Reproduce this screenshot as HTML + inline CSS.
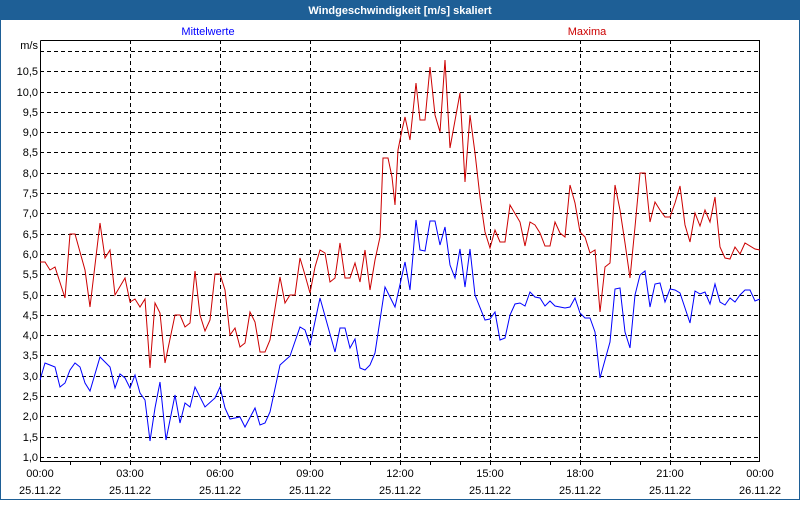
<!DOCTYPE html>
<html><head><meta charset="utf-8"><style>
body{margin:0;background:#fff}
svg text{font-family:"Liberation Sans",sans-serif;font-size:11px}
</style></head><body>
<svg width="800" height="500" viewBox="0 0 800 500" xmlns="http://www.w3.org/2000/svg">
<rect x="0" y="0" width="800" height="500" fill="#fff"/>
<rect x="0.5" y="0.5" width="799" height="499" fill="none" stroke="#1e5f96"/>
<rect x="0" y="0" width="800" height="20" fill="#1e5f96"/>
<text x="400" y="14" fill="#fff" text-anchor="middle" font-weight="bold">Windgeschwindigkeit [m/s] skaliert</text>
<text x="208" y="35" fill="#0000ff" text-anchor="middle">Mittelwerte</text>
<text x="587" y="35" fill="#cc0000" text-anchor="middle">Maxima</text>
<text x="38" y="49" text-anchor="end">m/s</text>
<g stroke="#000" stroke-dasharray="4,3" stroke-width="1">
<line x1="40" x2="760" y1="51.5" y2="51.5"/><line x1="40" x2="760" y1="71.5" y2="71.5"/><line x1="40" x2="760" y1="92.5" y2="92.5"/><line x1="40" x2="760" y1="112.5" y2="112.5"/><line x1="40" x2="760" y1="132.5" y2="132.5"/><line x1="40" x2="760" y1="152.5" y2="152.5"/><line x1="40" x2="760" y1="173.5" y2="173.5"/><line x1="40" x2="760" y1="193.5" y2="193.5"/><line x1="40" x2="760" y1="213.5" y2="213.5"/><line x1="40" x2="760" y1="234.5" y2="234.5"/><line x1="40" x2="760" y1="254.5" y2="254.5"/><line x1="40" x2="760" y1="274.5" y2="274.5"/><line x1="40" x2="760" y1="295.5" y2="295.5"/><line x1="40" x2="760" y1="315.5" y2="315.5"/><line x1="40" x2="760" y1="335.5" y2="335.5"/><line x1="40" x2="760" y1="355.5" y2="355.5"/><line x1="40" x2="760" y1="376.5" y2="376.5"/><line x1="40" x2="760" y1="396.5" y2="396.5"/><line x1="40" x2="760" y1="416.5" y2="416.5"/><line x1="40" x2="760" y1="437.5" y2="437.5"/><line x1="40" x2="760" y1="457.5" y2="457.5"/>
<line x1="130.5" x2="130.5" y1="40" y2="461"/><line x1="220.5" x2="220.5" y1="40" y2="461"/><line x1="310.5" x2="310.5" y1="40" y2="461"/><line x1="400.5" x2="400.5" y1="40" y2="461"/><line x1="490.5" x2="490.5" y1="40" y2="461"/><line x1="580.5" x2="580.5" y1="40" y2="461"/><line x1="670.5" x2="670.5" y1="40" y2="461"/>
</g>
<polyline fill="none" stroke="#000" points="40.5,40.5 759.5,40.5 759.5,461.5 40.5,461.5 40.5,40.5"/>
<g stroke="#000">
<line x1="70.5" x2="70.5" y1="461" y2="465"/><line x1="100.5" x2="100.5" y1="461" y2="465"/><line x1="130.5" x2="130.5" y1="461" y2="465"/><line x1="160.5" x2="160.5" y1="461" y2="465"/><line x1="190.5" x2="190.5" y1="461" y2="465"/><line x1="220.5" x2="220.5" y1="461" y2="465"/><line x1="250.5" x2="250.5" y1="461" y2="465"/><line x1="280.5" x2="280.5" y1="461" y2="465"/><line x1="310.5" x2="310.5" y1="461" y2="465"/><line x1="340.5" x2="340.5" y1="461" y2="465"/><line x1="370.5" x2="370.5" y1="461" y2="465"/><line x1="400.5" x2="400.5" y1="461" y2="465"/><line x1="430.5" x2="430.5" y1="461" y2="465"/><line x1="460.5" x2="460.5" y1="461" y2="465"/><line x1="490.5" x2="490.5" y1="461" y2="465"/><line x1="520.5" x2="520.5" y1="461" y2="465"/><line x1="550.5" x2="550.5" y1="461" y2="465"/><line x1="580.5" x2="580.5" y1="461" y2="465"/><line x1="610.5" x2="610.5" y1="461" y2="465"/><line x1="640.5" x2="640.5" y1="461" y2="465"/><line x1="670.5" x2="670.5" y1="461" y2="465"/><line x1="700.5" x2="700.5" y1="461" y2="465"/><line x1="730.5" x2="730.5" y1="461" y2="465"/>
</g>
<g text-anchor="end" fill="#000">
<text x="38" y="75">10,5</text><text x="38" y="96">10,0</text><text x="38" y="116">9,5</text><text x="38" y="136">9,0</text><text x="38" y="156">8,5</text><text x="38" y="177">8,0</text><text x="38" y="197">7,5</text><text x="38" y="217">7,0</text><text x="38" y="238">6,5</text><text x="38" y="258">6,0</text><text x="38" y="278">5,5</text><text x="38" y="299">5,0</text><text x="38" y="319">4,5</text><text x="38" y="339">4,0</text><text x="38" y="359">3,5</text><text x="38" y="380">3,0</text><text x="38" y="400">2,5</text><text x="38" y="420">2,0</text><text x="38" y="441">1,5</text><text x="38" y="461">1,0</text>
</g>
<g text-anchor="middle" fill="#000">
<text x="40" y="477">00:00</text><text x="130" y="477">03:00</text><text x="220" y="477">06:00</text><text x="310" y="477">09:00</text><text x="400" y="477">12:00</text><text x="490" y="477">15:00</text><text x="580" y="477">18:00</text><text x="670" y="477">21:00</text><text x="760" y="477">00:00</text>
<text x="40" y="494">25.11.22</text><text x="130" y="494">25.11.22</text><text x="220" y="494">25.11.22</text><text x="310" y="494">25.11.22</text><text x="400" y="494">25.11.22</text><text x="490" y="494">25.11.22</text><text x="580" y="494">25.11.22</text><text x="670" y="494">25.11.22</text><text x="760" y="494">26.11.22</text>
</g>
<polyline fill="none" stroke="#cc0000" stroke-width="1" points="40,262 45,262 50,270 55,267 65,298 70,234 75,234 85,270 90,307 100,223 105,258 110,250 115,295 125,278 130,302 135,299 140,307 145,299 150,368 155,303 160,313 165,363 175,315 180,315 185,327 190,323 195,271 200,315 205,331 210,320 215,274 220,274 225,290 230,335 235,328 240,347 245,343 250,312 255,322 260,352 265,352 270,340 280,277 285,303 290,295 295,295 300,258 305,275 310,293 315,267 320,250 325,253 330,282 335,278 340,243 345,278 350,278 355,263 360,282 365,250 370,290 375,260 380,237 383,158 388,158 392,177 395,205 398,150 402,130 405,117 410,140 416,83 420,120 425,120 430,67 435,115 440,132 445,60 450,148 460,93 465,182 470,115 475,153 480,197 485,232 490,248 495,230 500,242 505,242 510,205 520,222 525,246 530,222 535,225 540,233 545,246 550,246 555,222 560,233 565,237 570,185 575,203 580,232 585,237 590,253 595,250 600,312 605,267 610,263 615,185 620,210 625,243 630,278 635,227 640,173 645,173 650,222 655,202 660,210 665,217 670,217 675,203 680,186 685,225 690,242 695,213 700,226 705,210 710,222 715,197 720,247 725,258 730,259 735,247 740,254 745,243 755,249 760,250"/>
<polyline fill="none" stroke="#0000ff" stroke-width="1" points="40,380 45,363 50,365 55,367 60,387 65,383 70,370 75,363 80,367 85,383 90,391 100,357 110,367 115,388 120,374 125,378 130,388 135,375 140,393 145,400 150,441 155,408 160,382 166,440 175,395 180,423 185,403 190,407 195,387 205,407 215,398 220,387 225,408 230,419 240,417 245,427 255,408 260,425 265,423 270,412 280,365 290,356 300,327 305,330 310,345 320,298 335,352 340,328 345,328 350,348 355,339 360,368 365,370 370,365 375,353 385,287 395,307 405,262 410,290 416,220 420,250 425,251 430,221 435,221 440,245 445,227 450,265 455,278 460,249 465,287 470,249 475,295 485,320 490,319 495,312 500,340 505,338 510,315 515,304 520,303 525,306 530,292 535,297 540,298 545,306 550,301 555,306 565,308 570,307 575,298 580,313 585,318 590,318 595,332 600,378 605,360 610,342 615,289 620,288 625,332 630,348 635,295 640,275 645,271 650,307 655,284 660,283 665,302 670,289 675,290 680,293 690,323 695,291 700,294 705,292 710,304 715,284 720,302 725,305 730,298 735,302 740,295 745,290 750,290 755,301 760,299"/>
</svg>
</body></html>
